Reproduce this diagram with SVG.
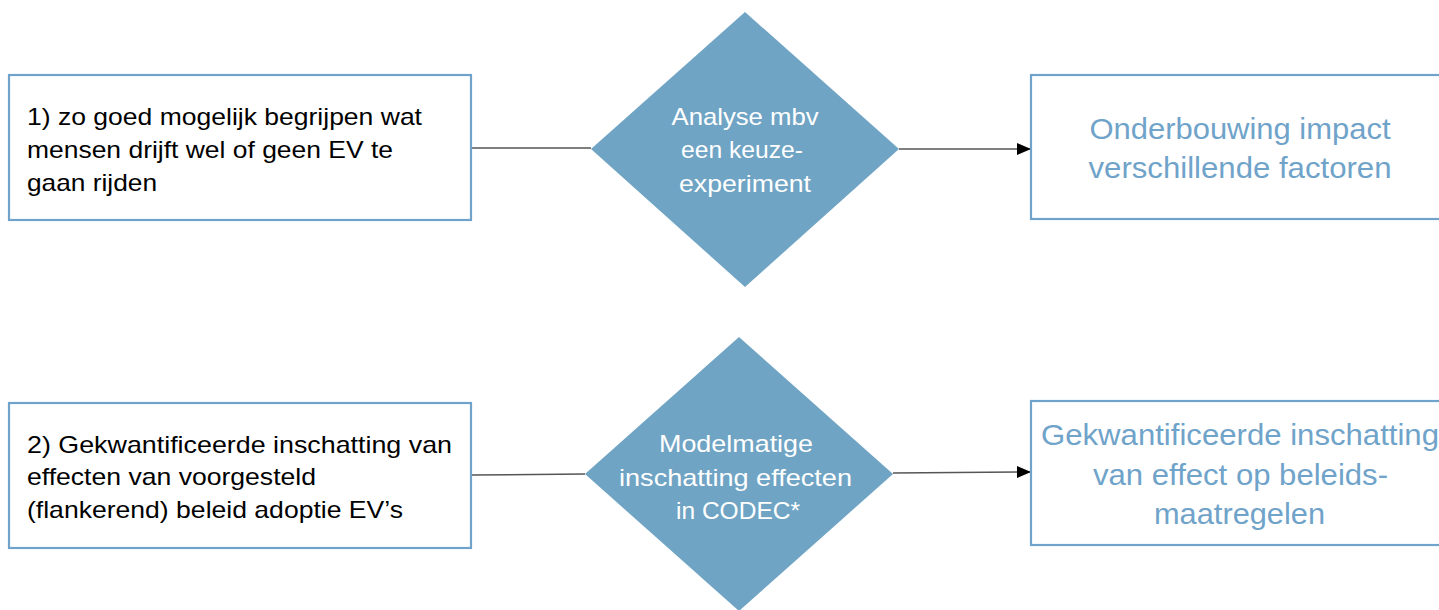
<svg xmlns="http://www.w3.org/2000/svg" width="1439" height="610" viewBox="0 0 1439 610">
<style>
.box{fill:#fff;stroke:#6fa3cb;stroke-width:2.2}
.dia{fill:#6fa4c4;stroke:none}
.t{font-family:"Liberation Sans",Arial,sans-serif;font-size:24px;fill:#000}
.dt{font-family:"Liberation Sans",Arial,sans-serif;font-size:24px;fill:#fff;text-anchor:middle}
.rt{font-family:"Liberation Sans",Arial,sans-serif;font-size:29px;fill:#6fa3c9;text-anchor:middle}
.c{stroke:#555;stroke-width:1.5;fill:none}
</style>
<defs>
<marker id="ah" markerWidth="14" markerHeight="14" refX="14" refY="7" orient="auto" markerUnits="userSpaceOnUse">
<path d="M0,1 L14,7 L0,13 Z" fill="#000"/>
</marker>
</defs>
<rect width="1439" height="610" fill="#fff"/>
<g id="connectors">
<line class="c" x1="471" y1="148" x2="591" y2="148"/>
<line class="c" x1="899" y1="149" x2="1031" y2="149" marker-end="url(#ah)"/>
<line class="c" x1="471" y1="475" x2="585" y2="474"/>
<line class="c" x1="893" y1="473" x2="1031" y2="472" marker-end="url(#ah)"/>
</g>
<g id="node-1">
<rect class="box" x="9" y="75" width="462" height="145"/>
<text class="t" x="27" y="125" textLength="395" lengthAdjust="spacingAndGlyphs">1) zo goed mogelijk begrijpen wat</text>
<text class="t" x="27" y="158" textLength="366" lengthAdjust="spacingAndGlyphs">mensen drijft wel of geen EV te</text>
<text class="t" x="27" y="191" textLength="130" lengthAdjust="spacingAndGlyphs">gaan rijden</text>
</g>
<g id="node-diamond-1">
<polygon class="dia" points="745,12 899,149 745,287 591,149"/>
<text class="dt" x="745" y="125" textLength="147" lengthAdjust="spacingAndGlyphs">Analyse mbv</text>
<text class="dt" x="742" y="158" textLength="122" lengthAdjust="spacingAndGlyphs">een keuze-</text>
<text class="dt" x="745" y="192" textLength="132" lengthAdjust="spacingAndGlyphs">experiment</text>
</g>
<g id="node-3">
<rect class="box" x="1031" y="75" width="418" height="144"/>
<text class="rt" x="1240" y="139" textLength="301" lengthAdjust="spacingAndGlyphs">Onderbouwing impact</text>
<text class="rt" x="1240" y="178" textLength="303" lengthAdjust="spacingAndGlyphs">verschillende factoren</text>
</g>
<g id="node-2">
<rect class="box" x="9" y="403" width="462" height="145"/>
<text class="t" x="27" y="453" textLength="425" lengthAdjust="spacingAndGlyphs">2) Gekwantificeerde inschatting van</text>
<text class="t" x="27" y="485" textLength="289" lengthAdjust="spacingAndGlyphs">effecten van voorgesteld</text>
<text class="t" x="27" y="518" textLength="376" lengthAdjust="spacingAndGlyphs">(flankerend) beleid adoptie EV’s</text>
</g>
<g id="node-diamond-2">
<polygon class="dia" points="739,337 893,474 739,611 585,474"/>
<text class="dt" x="736" y="452" textLength="154" lengthAdjust="spacingAndGlyphs">Modelmatige</text>
<text class="dt" x="735.5" y="486" textLength="233" lengthAdjust="spacingAndGlyphs">inschatting effecten</text>
<text class="dt" x="738" y="519" textLength="124" lengthAdjust="spacingAndGlyphs">in CODEC*</text>
</g>
<g id="node-4">
<rect class="box" x="1031" y="401" width="418" height="144"/>
<text class="rt" x="1240" y="445" textLength="398" lengthAdjust="spacingAndGlyphs">Gekwantificeerde inschatting</text>
<text class="rt" x="1240.5" y="485" textLength="295" lengthAdjust="spacingAndGlyphs">van effect op beleids-</text>
<text class="rt" x="1239.5" y="524" textLength="171" lengthAdjust="spacingAndGlyphs">maatregelen</text>
</g>
</svg>
